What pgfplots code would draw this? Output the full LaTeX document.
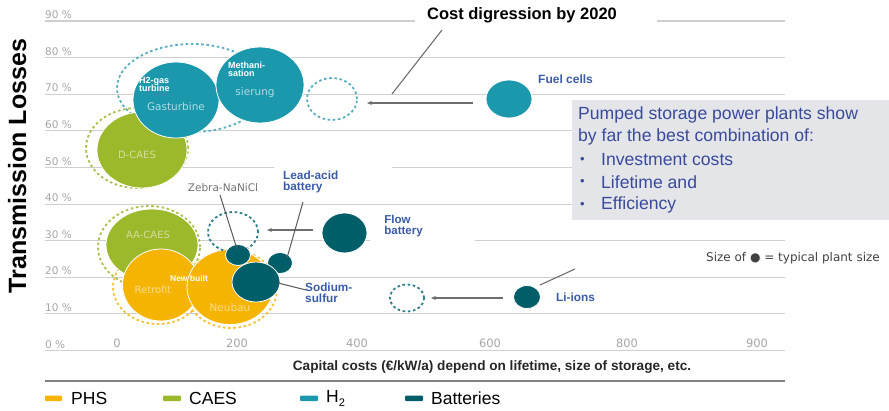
\documentclass[border=0pt]{standalone}
\usepackage{fontspec}
\setmainfont{Liberation Sans}
\newfontfamily\dejavu{DejaVu Sans}
\usepackage{pgfplots}
\pgfplotsset{compat=1.18}
\usetikzlibrary{arrows.meta}
\definecolor{phs}{HTML}{F5B400}
\definecolor{phsring}{HTML}{F5C233}
\definecolor{caes}{HTML}{9CB92C}
\definecolor{caesring}{HTML}{A9C24E}
\definecolor{htwo}{HTML}{1B98AC}
\definecolor{htworing}{HTML}{5AAEC0}
\definecolor{bat}{HTML}{005E69}
\definecolor{batring}{HTML}{2F7D88}
\definecolor{gridgray}{HTML}{CFCFCF}
\definecolor{tickgray}{HTML}{A6A6A6}
\definecolor{boxgray}{HTML}{E3E5E9}
\definecolor{boxblue}{HTML}{3A4A9C}
\definecolor{lblblue}{HTML}{3A5BA8}
\definecolor{callout}{HTML}{6E6E6E}
\newcommand\fs[1]{\fontsize{#1}{#1}\selectfont}
\def\bubrx{10}\def\bubry{10}
\pgfdeclareplotmark{ellf}{\pgfpathellipse{\pgfpointorigin}{\pgfqpoint{\bubrx pt}{0pt}}{\pgfqpoint{0pt}{\bubry pt}}\pgfusepathqfillstroke}
\pgfdeclareplotmark{ello}{\pgfpathellipse{\pgfpointorigin}{\pgfqpoint{\bubrx pt}{0pt}}{\pgfqpoint{0pt}{\bubry pt}}\pgfusepathqstroke}
\pgfplotsset{
  bubble/.style={only marks, scatter, mark=ellf,
    visualization depends on={\thisrow{rx}\as\bubrx},
    visualization depends on={\thisrow{ry}\as\bubry},
    scatter/use mapped color={draw=white, line width=0.8pt, fill=#1}},
  ring/.style={only marks, scatter, mark=ello,
    visualization depends on={\thisrow{rx}\as\bubrx},
    visualization depends on={\thisrow{ry}\as\bubry},
    scatter/use mapped color={draw=#1, line width=1.8pt, dash pattern=on 2.6pt off 2.6pt}},
}
\begin{document}
\begin{tikzpicture}
\useasboundingbox (0,0) rectangle (889pt,-410pt);
\begin{axis}[
  at={(45pt,-350.5pt)}, anchor=south west,
  scale only axis, width=740pt, height=329.5pt,
  xmin=45, xmax=785, ymin=0, ymax=90, clip=false,
  axis line style={draw=none}, major tick length=0pt,
  ymajorgrids, major grid style={line width=1.1pt, color=gridgray},
  ytick={0,10,20,30,40,50,60,70,80,90},
  yticklabels={0 \%,10 \%,20 \%,30 \%,40 \%,50 \%,60 \%,70 \%,80 \%,90 \%},
  xtick={117,237,357,490,627,757},
  xticklabels={0,200,400,600,800,900},
  /pgf/number format/assume math mode=true,
  yticklabel style={anchor=south west, inner sep=0pt, yshift=2pt, font=\dejavu\fs{10.5}, text=tickgray},
  xticklabel style={anchor=south, inner sep=0pt, yshift=2.5pt, font=\dejavu\fs{11.5}, text=tickgray},
]
% dashed rings (typical size ranges)
\addplot[ring=caesring] table {
x y rx ry
137 55.31 51 40
149 28.27 51 41
};
\addplot[ring=htworing] table {
x y rx ry
192 71.70 75 44
};
\addplot[ring=phsring] table {
x y rx ry
158 17.34 45 37
231 16.80 46 39
};
% CAES
\addplot[bubble=caes] table {
x y rx ry
142 54.77 45 38
152 28.82 46 36
};
% H2
\addplot[bubble=htwo] table {
x y rx ry
176 68.42 43 38
260 72.52 44 38
509 68.70 23 19
};
% PHS
\addplot[bubble=phs] table {
x y rx ry
161 17.89 38.5 36
230 17.34 43 37.5
};
% cost digression by 2020
\addplot[ring=htworing] table {
x y rx ry
332 68.70 25 21
};
\addplot[ring=batring] table {
x y rx ry
233 32.37 25 20
407 14.34 17 13.5
};
% Batteries
\addplot[bubble=bat] table {
x y rx ry
238 26.09 12.5 10.5
280 23.90 12.5 10.5
256 18.71 24 20
344.5 32.10 22.5 20
527 14.61 13.5 11.5
};
\end{axis}
\begin{scope}[x=1pt,y=-1pt]
% gaps in grid lines
\fill[white] (274,165) rectangle (392,171);
\fill[white] (370,238) rectangle (475,244);
\fill[white] (415,18) rectangle (657,24);
% title
\node[font=\bfseries\fs{16.5}] at (522,15) {Cost digression by 2020};
\draw[callout, line width=1.1pt] (442,30) -- (392,94);
\draw[callout, line width=1.1pt, -{Stealth[length=5pt,width=4pt]}] (473,103) -- (367,103);
\draw[callout, line width=1.1pt] (575,269) -- (540,285);
\draw[callout, line width=1.1pt, -{Stealth[length=5pt,width=4pt]}] (503,298) -- (431,298);
\draw[callout, line width=1.1pt, -{Stealth[length=5pt,width=4pt]}] (313,230) -- (267,230);
\draw[callout!80!black, line width=1pt] (220,195) -- (237,249);
\draw[callout!80!black, line width=1pt] (303,202) -- (287,258);
\draw[callout!80!black, line width=1pt] (278,283) -- (306,290);
% bubble labels
\node[white, font=\bfseries\fs{9}, align=left, anchor=north west, inner sep=0pt] at (139,77) {H2-gas\\[-1pt]turbine};
\node[htwo!35!white, font=\dejavu\fs{10.5}] at (176,107) {Gasturbine};
\node[white, font=\bfseries\fs{9}, align=left, anchor=north west, inner sep=0pt] at (228,62) {Methani-\\[-1pt]sation};
\node[htwo!35!white, font=\dejavu\fs{10.5}] at (255,93) {sierung};
\node[caes!45!white, font=\dejavu\fs{10}] at (137,155) {D-CAES};
\node[caes!45!white, font=\dejavu\fs{10}] at (148,235) {AA-CAES};
\node[white, font=\bfseries\fs{8.5}] at (189,278) {New built};
\node[phs!45!white, font=\dejavu\fs{10}] at (153,290) {Retrofit};
\node[phs!45!white, font=\dejavu\fs{10.5}] at (230,308) {Neubau};
\node[black!55, font=\dejavu\fs{10.5}] at (223,188) {Zebra-NaNiCl};
\node[lblblue, font=\bfseries\fs{11.8}, align=left, anchor=north west, inner sep=0pt] at (283,171) {Lead-acid\\[-1pt]battery};
\node[lblblue, font=\bfseries\fs{11.5}, align=left, anchor=north west, inner sep=0pt] at (381,215) {~Flow\\[-1pt]~battery};
\node[lblblue, font=\bfseries\fs{11.8}, align=left, anchor=north west, inner sep=0pt] at (305,283) {Sodium-\\[-1pt]sulfur};
\node[lblblue, font=\bfseries\fs{11.8}, anchor=west, inner sep=0pt] at (556,297) {Li-ions};
\node[lblblue, font=\bfseries\fs{12}, anchor=west, inner sep=0pt] at (538,79) {Fuel cells};
\node[black!75, font=\dejavu\fs{12}, anchor=west, inner sep=0pt] at (706,258) {Size of ● = typical plant size};
% text box
\fill[boxgray] (572,100) rectangle (889,220);
\begin{scope}[every node/.style={boxblue, font=\fs{17.6}, anchor=west, inner sep=0pt}]
\node at (578,115) {Pumped storage power plants show};
\node at (578,137) {by far the best combination of:};
\node[font=\fs{13}] at (580,160) {•}; \node at (601,160) {Investment costs};
\node[font=\fs{13}] at (580,182) {•}; \node at (601,182) {Lifetime and};
\node[font=\fs{13}] at (580,205) {•}; \node at (601,205) {Efficiency};
\end{scope}
% axis title
\node[font=\bfseries\fs{25}, rotate=90, anchor=base] at (26,166) {Transmission Losses};
\node[font=\bfseries\fs{13.6}, black!85] at (492,367) {Capital costs (€/kW/a) depend on lifetime, size of storage, etc.};
\draw[black!50, line width=1.6pt] (45,381) -- (785,381);
% legend
\fill[phs, rounded corners=1pt] (45,395.5) rectangle (62,401);
\node[font=\fs{17.5}, anchor=west, inner sep=0pt] at (71,398.5) {PHS};
\fill[caes, rounded corners=1pt] (163,395.5) rectangle (181,401);
\node[font=\fs{17.5}, anchor=west, inner sep=0pt] at (189,398.5) {CAES};
\fill[htwo, rounded corners=1pt] (300,395.5) rectangle (318,401);
\node[font=\fs{17.5}, anchor=west, inner sep=0pt] at (326,398.5) {H\raisebox{-0.35ex}{\fs{11}2}};
\fill[bat, rounded corners=1pt] (405,395.5) rectangle (423,401);
\node[font=\fs{17.5}, anchor=west, inner sep=0pt] at (431,398.5) {Batteries};
\end{scope}
\end{tikzpicture}
\end{document}
